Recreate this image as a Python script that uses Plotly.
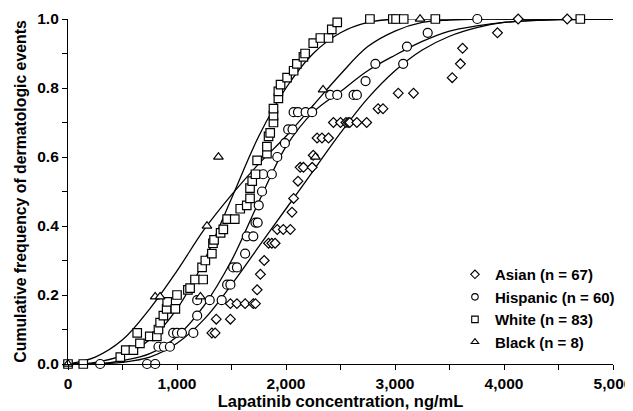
import plotly.graph_objects as go

# ---------------- data ----------------
asian_x = [1320, 1350, 1360, 1490, 1490, 1550, 1625, 1700, 1720, 1735, 1765, 1800,
           1840, 1870, 1900, 1920, 1975, 2040, 2055, 2070, 2110, 2130, 2160, 2240,
           2250, 2285, 2330, 2390, 2435, 2500, 2550, 2570, 2585, 2650, 2740, 2845,
           2890, 3030, 3170, 3525, 3600, 3620, 3940, 4130, 4580]
asian_y = [0.09, 0.09, 0.13, 0.13, 0.175, 0.175, 0.175, 0.175, 0.175, 0.215, 0.26, 0.30,
           0.35, 0.35, 0.35, 0.39, 0.39, 0.39, 0.44, 0.48, 0.53, 0.57, 0.57, 0.57,
           0.605, 0.655, 0.655, 0.655, 0.70, 0.70, 0.70, 0.70, 0.70, 0.70, 0.70, 0.74,
           0.74, 0.785, 0.785, 0.83, 0.87, 0.915, 0.96, 1.0, 1.0]

hisp_x = [295, 725, 800, 830, 880, 935, 965, 1000, 1045, 1150, 1185, 1185, 1300, 1410,
          1460, 1490, 1515, 1550, 1625, 1640, 1700, 1720, 1740, 1750, 1780, 1790, 1870,
          1920, 1990, 2020, 2060, 2070, 2110, 2180, 2240, 2405, 2470, 2620, 2650, 2730,
          2820, 3075, 3110, 3300, 3755]
hisp_y = [0.0, 0.0, 0.0, 0.05, 0.05, 0.05, 0.09, 0.09, 0.09, 0.09, 0.14, 0.185, 0.185, 0.185,
          0.23, 0.23, 0.28, 0.28, 0.32, 0.37, 0.37, 0.41, 0.41, 0.46, 0.50, 0.55, 0.55,
          0.60, 0.64, 0.68, 0.68, 0.73, 0.73, 0.73, 0.73, 0.78, 0.78, 0.78, 0.78, 0.82,
          0.87, 0.87, 0.92, 0.96, 1.0]

white_x = [0, 140, 480, 530, 600, 635, 660, 750, 815, 830, 845, 875, 905, 910, 985, 1000,
           1100, 1120, 1165, 1240, 1230, 1260, 1320, 1330, 1340, 1400, 1425, 1460, 1530,
           1580, 1640, 1670, 1670, 1690, 1720, 1735, 1825, 1825, 1840, 1855, 1885, 1885,
           1885, 1930, 1930, 1950, 2010, 2070, 2100, 2160, 2175, 2250, 2315, 2390, 2420,
           2470, 2770, 2980, 3010, 3080, 3370, 4700]
white_y = [0.0, 0.0, 0.02, 0.04, 0.04, 0.09, 0.06, 0.08, 0.08, 0.10, 0.12, 0.14, 0.16, 0.18,
           0.16, 0.20, 0.215, 0.22, 0.245, 0.245, 0.28, 0.30, 0.32, 0.35, 0.36, 0.38, 0.39,
           0.42, 0.42, 0.45, 0.46, 0.48, 0.51, 0.53, 0.55, 0.59, 0.61, 0.63, 0.66, 0.67,
           0.70, 0.72, 0.74, 0.77, 0.79, 0.81, 0.83, 0.85, 0.87, 0.89, 0.90, 0.93, 0.945,
           0.945, 0.97, 0.99, 1.0, 1.0, 1.0, 1.0, 1.0, 1.0]

black_x = [0, 800, 845, 1215, 1275, 1380, 2270, 2340, 3230]
black_y = [0.0, 0.195, 0.195, 0.195, 0.40, 0.60, 0.60, 0.795, 1.0]

# fitted curves, read at regular concentrations
curve_x = [0, 250, 500, 750, 1000, 1250, 1500, 1750, 2000, 2250, 2500, 2750, 3000,
           3250, 3500, 3750, 4000, 4500, 5000]
asian_fit = [0, 0, 0.005, 0.02, 0.06, 0.13, 0.23, 0.34, 0.45, 0.56, 0.67, 0.77, 0.85,
             0.91, 0.95, 0.975, 0.99, 0.998, 1.0]
hisp_fit = [0, 0, 0.01, 0.03, 0.08, 0.17, 0.30, 0.47, 0.63, 0.73, 0.79, 0.85, 0.895,
            0.935, 0.965, 0.98, 0.99, 0.998, 1.0]
white_fit = [0, 0.005, 0.025, 0.07, 0.16, 0.30, 0.48, 0.66, 0.80, 0.90, 0.96, 0.99, 1.0,
             1.0, 1.0, 1.0, 1.0, 1.0, 1.0]
black_fit = [0, 0.02, 0.07, 0.16, 0.27, 0.39, 0.49, 0.58, 0.66, 0.75, 0.84, 0.92, 0.965,
             0.99, 0.997, 1.0, 1.0, 1.0, 1.0]

legend_names = ["Asian (n = 67)", "Hispanic (n = 60)", "White (n = 83)", "Black (n = 8)"]
x_ticks = [0, 1000, 2000, 3000, 4000, 5000]
x_tick_labels = ["0", "1,000", "2,000", "3,000", "4,000", "5,000"]
y_ticks = [0.0, 0.2, 0.4, 0.6, 0.8, 1.0]
y_tick_labels = ["0.0", "0.2", "0.4", "0.6", "0.8", "1.0"]

# ---------------- figure ----------------
FONT = "Liberation Sans, Arial, Helvetica, sans-serif"
fig = go.Figure()

for fit in [asian_fit, hisp_fit, white_fit, black_fit]:
    fig.add_trace(go.Scatter(x=curve_x, y=fit, mode="lines",
                             line=dict(color="black", width=1.3, shape="spline"),
                             showlegend=False, hoverinfo="skip", cliponaxis=False))

series = [
    (asian_x, asian_y, "diamond", 7.5),
    (hisp_x, hisp_y, "circle", 9),
    (white_x, white_y, "square", 8.5),
    (black_x, black_y, "triangle-up", 8.5),
]
for (xs, ys, sym, sz) in series:
    fig.add_trace(go.Scatter(x=xs, y=ys, mode="markers",
                             marker=dict(symbol=sym, size=sz, color="white",
                                         line=dict(color="black", width=1.2)),
                             showlegend=False, cliponaxis=False))

# legend entries
for i, (name, (_, _, sym, sz)) in enumerate(zip(legend_names, series)):
    fig.add_trace(go.Scatter(x=[None], y=[None], mode="markers", name=name,
                             legendgroup=f"g{i}",
                             marker=dict(symbol=sym, size=6.5, color="white",
                                         line=dict(color="black", width=1.1))))

axis_common = dict(showline=True, linecolor="black", linewidth=1.2, ticks="outside",
                   ticklen=5, tickwidth=1.2, tickcolor="black", showgrid=False,
                   zeroline=False, mirror=False, automargin=False,
                   tickfont=dict(family=FONT, size=15.5, color="black", weight="bold"))

fig.update_xaxes(range=[0, 5000], tickvals=x_ticks, ticktext=x_tick_labels,
                 minor=dict(tickvals=[500, 1500, 2500, 3500, 4500], ticks="outside",
                            ticklen=5, tickwidth=1.2, tickcolor="black"),
                 title=dict(text="Lapatinib concentration, ng/mL", standoff=4,
                            font=dict(family=FONT, size=16.5, color="black", weight="bold")),
                 **axis_common)
fig.update_yaxes(range=[0, 1.0], tickvals=y_ticks, ticktext=y_tick_labels,
                 minor=dict(tickvals=[0.1, 0.3, 0.5, 0.7, 0.9], ticks="outside",
                            ticklen=5, tickwidth=1.2, tickcolor="black"),
                 title=dict(text="Cumulative frequency of dermatologic events", standoff=6,
                            font=dict(family=FONT, size=15.8, color="black", weight="bold")),
                 **axis_common)

# the page places the figure 8 px in from the top-left corner
fig.update_layout(
    width=625, height=403,
    margin=dict(l=60, r=20, t=11, b=47),
    plot_bgcolor="white", paper_bgcolor="white",
    showlegend=True,
    legend=dict(x=0.71, y=0.307, xanchor="left", yanchor="top",
                bgcolor="rgba(0,0,0,0)", itemwidth=30, tracegroupgap=0,
                font=dict(family=FONT, size=15, color="black", weight="bold")),
)

fig.write_html("out.html")
